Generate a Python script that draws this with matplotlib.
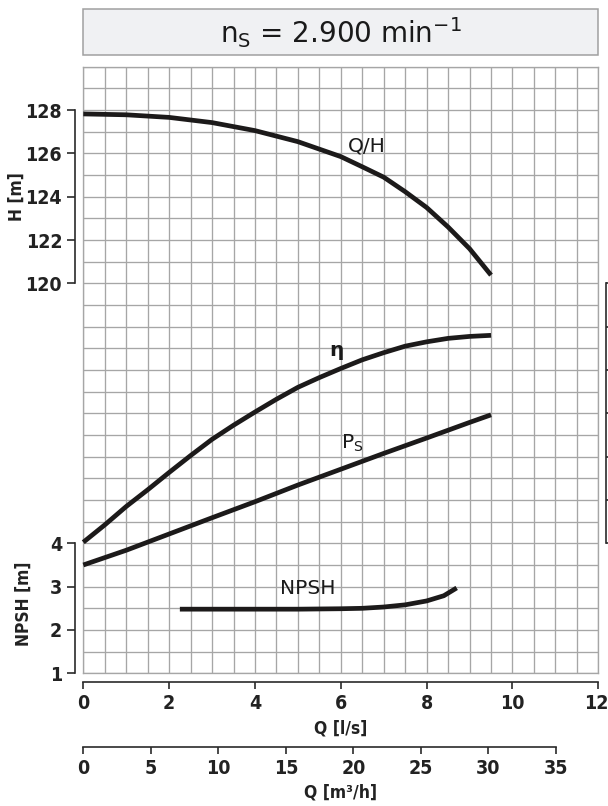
import matplotlib
matplotlib.use('agg')
import matplotlib.pyplot as plt
from matplotlib.patches import Rectangle
from matplotlib.transforms import ScaledTranslation
import numpy as np

# ---- data ----
# Q/H curve (Q in l/s, H in m)
q_h = [0, 1, 2, 3, 4, 5, 6, 6.5, 7, 7.5, 8, 8.5, 9, 9.5]
h_vals = [127.82, 127.78, 127.66, 127.42, 127.05, 126.54, 125.85, 125.38,
          124.9, 124.23, 123.5, 122.6, 121.6, 120.38]

# efficiency and power curves, in grid rows (their own axis is cut off)
q_eta = [0, 0.5, 1, 1.5, 2, 2.5, 3, 3.5, 4, 4.5, 5, 5.5, 6, 6.5, 7, 7.5, 8,
         8.5, 9, 9.5]
eta_rows = [6.05, 6.85, 7.7, 8.47, 9.27, 10.05, 10.8, 11.45, 12.06, 12.65,
            13.2, 13.65, 14.07, 14.47, 14.8, 15.1, 15.3, 15.46, 15.55, 15.6]
q_p = [0, 1, 2, 3, 4, 5, 6, 7, 8, 9, 9.5]
p_rows = [5.0, 5.68, 6.43, 7.18, 7.92, 8.69, 9.42, 10.15, 10.86, 11.58, 11.93]

# NPSH curve (m)
q_npsh = [2.25, 3, 4, 5, 6, 6.5, 7, 7.5, 8, 8.4, 8.7]
npsh_vals = [2.48, 2.48, 2.48, 2.48, 2.49, 2.5, 2.53, 2.58, 2.67, 2.79, 2.97]

h_ticks = [120, 122, 124, 126, 128]
npsh_ticks = [1, 2, 3, 4]
q_ticks = [0, 2, 4, 6, 8, 10, 12]
m3h_ticks = [0, 5, 10, 15, 20, 25, 30, 35]

title = r'n$_\mathregular{S}$ = 2.900 min$^\mathregular{-1}$'

# ---- layout (pixels of a 608x806 picture) ----
W, H = 608, 806
DPI = 100
PT = 72.0 / DPI  # points per pixel

def fx(px):
    return px / W

def fy(py):
    return (H - py) / H

gx0, gx1, gy0, gy1 = 83.3, 598.3, 66.7, 673.3
pos = [fx(gx0), fy(gy1), fx(gx1) - fx(gx0), fy(gy0) - fy(gy1)]

narrow = ['DejaVu Sans Condensed', 'Liberation Sans Narrow', 'DejaVu Sans']
tick_font = {'family': narrow, 'stretch': 'condensed', 'weight': 'bold', 'size': 14}
lab_font = {'family': narrow, 'stretch': 'condensed', 'weight': 'bold', 'size': 12.5}
dark = '#2a2a2a'
curve_col = '#1c1a1a'
grid_col = '#a6a6a6'

fig = plt.figure(figsize=(W / DPI, H / DPI), dpi=DPI)

# title box
fig.add_artist(Rectangle((fx(82.7), fy(55)), fx(598.3) - fx(82.7), fy(9.3) - fy(55),
                         transform=fig.transFigure, facecolor='#f0f1f3',
                         edgecolor='#a0a0a0', linewidth=1.1))
fig.text(fx(340.5), fy(33), title, ha='center', va='center', fontsize=20,
         color='#1a1a1a', family='DejaVu Sans')

# grid axes
ax = fig.add_axes(pos)
ax.set_xlim(0, 12)
ax.set_ylim(0, 28)
ax.set_xticks(np.arange(0, 12.01, 0.5))
ax.set_yticks(np.arange(0, 28.01, 1))
ax.tick_params(length=0, labelbottom=False, labelleft=False)
ax.grid(True, color=grid_col, linewidth=0.95)
for s in ax.spines.values():
    s.set_color(grid_col)
    s.set_linewidth(0.95)


def overlay(ylim):
    a = fig.add_axes(pos)
    a.patch.set_visible(False)
    for s in a.spines.values():
        s.set_visible(False)
    a.set_xlim(0, 12)
    a.set_ylim(ylim)
    a.set_xticks([])
    a.set_yticks([])
    return a


def left_bracket(a, ticks):
    sp = a.spines['left']
    sp.set_visible(True)
    sp.set_position(('outward', 8 * PT))
    sp.set_bounds(ticks[0], ticks[-1])
    sp.set_color(dark)
    sp.set_linewidth(1.2)
    a.set_yticks(ticks)
    a.tick_params(axis='y', left=True, labelleft=True, length=7.6 * PT, width=1.2,
                  color=dark, pad=4.0, labelcolor='#222222')
    for t in a.get_yticklabels():
        t.set_fontproperties(tick_font)


ax_h = overlay((102, 130))
left_bracket(ax_h, h_ticks)
ax_n = overlay((1, 15))
left_bracket(ax_n, npsh_ticks)

# right bracket (its labels are outside the picture)
ax_r = overlay((0, 28))
sp = ax_r.spines['right']
sp.set_visible(True)
sp.set_position(('outward', 7.4 * PT))
sp.set_bounds(6, 18)
sp.set_color(dark)
sp.set_linewidth(1.2)
ax_r.set_yticks(np.arange(6, 18.01, 2))
ax_r.tick_params(axis='y', left=False, labelleft=False, right=True, labelright=False,
                 length=6 * PT, width=1.2, color=dark)

# Q [l/s] axis
sp = ax_n.spines['bottom']
sp.set_visible(True)
sp.set_position(('outward', 8.4 * PT))
sp.set_bounds(0, 12)
sp.set_color(dark)
sp.set_linewidth(1.2)
ax_n.set_xticks(q_ticks)
ax_n.tick_params(axis='x', bottom=True, labelbottom=True, length=6.7 * PT, width=1.2,
                 color=dark, pad=4.0, labelcolor='#222222')
for t in ax_n.get_xticklabels():
    t.set_fontproperties(tick_font)
# last label sits on the picture edge, nudge it in a little
last = ax_n.xaxis.get_major_ticks()[-1].label1
last.set_transform(last.get_transform() + ScaledTranslation(-2.5 / DPI, 0, fig.dpi_scale_trans))

# Q [m3/h] axis
ax_m = fig.add_axes([fx(gx0), fy(746.7), fx(gx1) - fx(gx0), 0.0001])
ax_m.patch.set_visible(False)
for s in ax_m.spines.values():
    s.set_visible(False)
ax_m.set_xlim(0, (gx1 - gx0) / 13.506)
ax_m.set_yticks([])
sp = ax_m.spines['bottom']
sp.set_visible(True)
sp.set_bounds(0, 35)
sp.set_color(dark)
sp.set_linewidth(1.2)
ax_m.set_xticks(m3h_ticks)
ax_m.tick_params(axis='x', bottom=True, length=6.7 * PT, width=1.2, color=dark, pad=4.0,
                 labelcolor='#222222')
for t in ax_m.get_xticklabels():
    t.set_fontproperties(tick_font)

# axis titles
fig.text(fx(340.5), fy(728.5), 'Q [l/s]', ha='center', va='center', color='#222222', **lab_font)
fig.text(fx(340.5), fy(792), 'Q [m³/h]', ha='center', va='center', color='#222222', **lab_font)
fig.text(fx(17), fy(197), 'H [m]', ha='center', va='center', rotation=90, color='#222222', **lab_font)
fig.text(fx(24), fy(604), 'NPSH [m]', ha='center', va='center', rotation=90, color='#222222', **lab_font)

# curves
lw = 3.4
ax_h.plot(q_h, h_vals, color=curve_col, lw=lw, solid_capstyle='butt', clip_on=False)
ax_r.plot(q_eta, eta_rows, color=curve_col, lw=lw, solid_capstyle='butt', clip_on=False)
ax_r.plot(q_p, p_rows, color=curve_col, lw=lw, solid_capstyle='butt', clip_on=False)
ax_n.plot(q_npsh, npsh_vals, color=curve_col, lw=lw, solid_capstyle='butt', clip_on=False)

# curve names
name_font = {'family': 'DejaVu Sans', 'size': 14.5, 'color': '#1a1a1a'}
fig.text(fx(366.5), fy(145.5), 'Q/H', ha='center', va='center', **name_font)
fig.text(fx(336), fy(350), 'η', ha='center', va='center', fontweight='bold', **name_font)
fig.text(fx(352), fy(443), r'P$_\mathregular{S}$', ha='center', va='center', **name_font)
fig.text(fx(307.5), fy(589), 'NPSH', ha='center', va='center', **name_font)

fig.savefig('out.png', dpi=DPI)
